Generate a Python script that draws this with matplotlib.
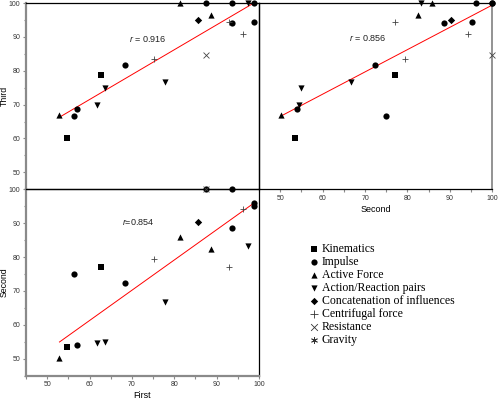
import numpy as np
import matplotlib.pyplot as plt
from matplotlib.ticker import MultipleLocator

plt.rcParams['font.family'] = ['Liberation Sans', 'DejaVu Sans']
plt.rcParams['mathtext.fontset'] = 'custom'
plt.rcParams['mathtext.it'] = 'Liberation Sans:italic'
plt.rcParams['mathtext.rm'] = 'Liberation Sans'

# scores of each item
first = [52.9, 54.6, 56.3, 57.0, 61.7, 62.7, 63.7, 68.3, 75.3, 77.8, 81.3,
         85.7, 87.4, 87.6, 88.6, 92.9, 93.7, 93.6, 96.2, 97.5, 98.9, 98.9]
second = [50.1, 53.4, 75.0, 54.0, 54.5, 77.0, 55.0, 72.3, 79.4, 66.7, 85.8,
          90.3, 100, 100, 82.5, 77.0, 100, 88.5, 94.2, 83.3, 96.1, 95.1]
third = [66.8, 60.1, 66.7, 68.8, 69.8, 78.7, 74.9, 81.8, 83.4, 76.8, 100,
         95.0, 84.7, 100, 96.5, 94.4, 100, 94.1, 90.9, 99.9, 100, 94.4]
category = ['Active Force', 'Kinematics', 'Impulse', 'Impulse', 'Action/Reaction pairs',
            'Kinematics', 'Action/Reaction pairs', 'Impulse', 'Centrifugal force',
            'Action/Reaction pairs', 'Active Force', 'Concatenation of influences',
            'Resistance', 'Impulse', 'Active Force', 'Centrifugal force', 'Impulse',
            'Impulse', 'Centrifugal force', 'Action/Reaction pairs', 'Impulse', 'Impulse']

labels = ['Kinematics', 'Impulse', 'Active Force', 'Action/Reaction pairs',
          'Concatenation of influences', 'Centrifugal force', 'Resistance', 'Gravity']
markers = ['s', 'o', '^', 'v', 'D', '+', 'x', (6, 2, 0)]
sizes = [14, 20, 20, 20, 14, 24, 18, 14]

# correlation and fitted lines as printed on the chart (slope, intercept)
r_values = ['0.916', '0.856', '0.854']
fit_slope = [0.735, 0.658, 0.894]
fit_intercept = [27.4, 33.6, 7.6]

first = np.array(first)
second = np.array(second)
third = np.array(third)
category = np.array(category)

fig = plt.figure(figsize=(4.98, 4.03), dpi=100)
W, H = 498, 403
ax_tl = fig.add_axes([26 / W, 1 - 189.3 / H, 233 / W, 186.3 / H])
ax_tr = fig.add_axes([259 / W, 1 - 189.3 / H, 233.3 / W, 186.3 / H])
ax_bl = fig.add_axes([26 / W, 1 - 375.5 / H, 233 / W, 186.2 / H])

gray = '#8a8a8a'


def scatter_panel(ax, x, y, i, rpos, spacer=' '):
    for lab, m, s in zip(labels, markers, sizes):
        sel = category == lab
        if m in ['+', 'x']:
            ax.scatter(x[sel], y[sel], marker=m, s=s, color='#444444',
                       linewidths=0.6, zorder=3, clip_on=False)
        else:
            ax.scatter(x[sel], y[sel], marker=m, s=s, color='black',
                       linewidths=0, zorder=3, clip_on=False)
    xx = np.array([x.min(), x.max()])
    ax.plot(xx, fit_slope[i] * xx + fit_intercept[i], color='red', lw=0.7, zorder=2)
    ax.text(rpos[0], rpos[1], '$r$' + spacer + '=' + spacer + r_values[i],
            fontsize=6.5, ha='left', va='center', color='#222222')
    ax.set_xlim(45, 100)
    ax.set_ylim(45, 100)
    ax.set_facecolor('none')
    ax.xaxis.set_major_locator(MultipleLocator(10))
    ax.xaxis.set_minor_locator(MultipleLocator(5))
    ax.yaxis.set_major_locator(MultipleLocator(10))
    ax.yaxis.set_minor_locator(MultipleLocator(5))
    ax.tick_params(which='both', direction='out', color=gray, width=0.8,
                   labelsize=5, labelcolor='#333333', pad=1.5)
    ax.tick_params(which='major', length=2.5)
    ax.tick_params(which='minor', length=1.8)
    for sp in ax.spines.values():
        sp.set_color('black')
        sp.set_linewidth(0.9)


scatter_panel(ax_tl, first, third, 0, (69.2, 89.3))
scatter_panel(ax_tr, second, third, 1, (66.1, 89.6))
scatter_panel(ax_bl, first, second, 2, (67.7, 90.4), spacer='')

# top left: y axis only
ax_tl.tick_params(axis='x', which='both', bottom=False, labelbottom=False)
ax_tl.set_ylabel('Third', fontsize=6.3, labelpad=0)
ax_tl.spines['left'].set_color(gray)
ax_tl.spines['left'].set_linewidth(1.6)

# top right: x axis only
ax_tr.tick_params(axis='y', which='both', left=False, labelleft=False)
ax_tr.set_xlabel('Second', fontsize=6.5, labelpad=2)
ax_tr.spines['right'].set_color(gray)
ax_tr.spines['right'].set_linewidth(1.3)

# bottom left: both axes
ax_bl.set_xlabel('First', fontsize=6.5, labelpad=2)
ax_bl.set_ylabel('Second', fontsize=6.3, labelpad=0)
for side in ['left', 'bottom']:
    ax_bl.spines[side].set_color(gray)
    ax_bl.spines[side].set_linewidth(1.6)

# legend in the empty bottom-right corner
handles = []
for lab, m, s in zip(labels, markers, sizes):
    if m in ['+', 'x', (6, 2, 0)]:
        h = ax_bl.scatter([], [], marker=m, s=s + 6, color='#333333', linewidths=0.6)
    else:
        h = ax_bl.scatter([], [], marker=m, s=s, color='black', linewidths=0)
    handles.append(h)
fig.legend(handles, labels, loc='upper left', bbox_to_anchor=(309 / W, 1 - 243 / H),
           frameon=False, prop={'family': 'Liberation Serif', 'size': 8.5},
           handlelength=0.8, handletextpad=0.3, labelspacing=0.08,
           borderpad=0, borderaxespad=0, scatterpoints=1)

fig.savefig('out.png', dpi=100)
